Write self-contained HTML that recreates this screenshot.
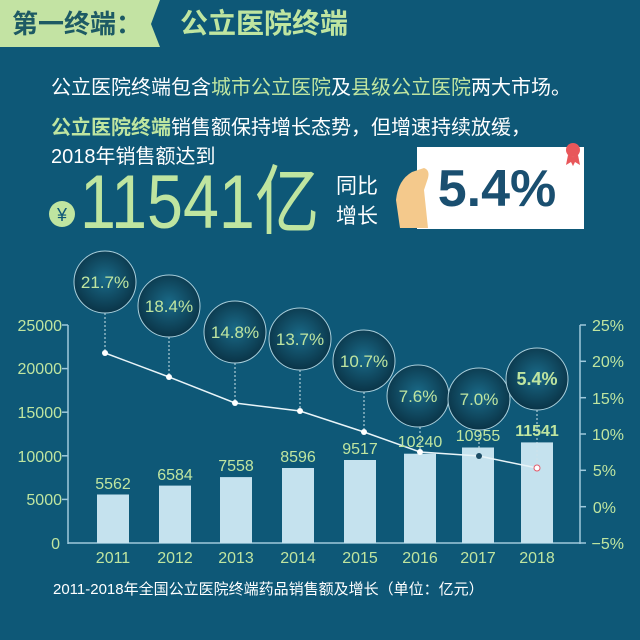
<!DOCTYPE html>
<html><head><meta charset="utf-8"><style>
*{margin:0;padding:0}
body{width:640px;height:640px;background:#0e5877;position:relative;overflow:hidden;font-family:"Liberation Sans","Noto Sans CJK SC",sans-serif;}
.a{position:absolute;white-space:nowrap}
.g{color:#bfe5a0}
</style></head><body>
<svg class="a" style="left:0;top:0" width="640" height="640">
<polygon points="0,0 160,0 151,24 160,47 0,47" fill="#c3e3a3"/>
<rect x="417" y="147" width="167" height="82" fill="#fff"/>
<path d="M400,228 L396,200 Q398,180 412,172 L424,168 Q430,170 428,178 L424,190 L428,228 Z" fill="#f4c98c"/>
<circle cx="573" cy="150" r="7" fill="#e8575a"/>
<polygon points="568,155 566,165 571,162 573,166 575,158" fill="#e8575a"/>
<polygon points="578,155 580,165 575,162 573,166 571,158" fill="#e8575a"/>
<circle cx="62" cy="214" r="13" fill="#bfe5a0"/>
<g stroke="#9fc9dc" stroke-width="1.5" fill="none">
<line x1="68" y1="325" x2="68" y2="544"/><line x1="68" y1="543" x2="580" y2="543"/>
<line x1="580" y1="325" x2="580" y2="544"/>
<line x1="62" y1="325" x2="68" y2="325"/><line x1="62" y1="368.6" x2="68" y2="368.6"/><line x1="62" y1="412.2" x2="68" y2="412.2"/><line x1="62" y1="455.8" x2="68" y2="455.8"/><line x1="62" y1="499.4" x2="68" y2="499.4"/>
<line x1="580" y1="325" x2="586" y2="325"/><line x1="580" y1="361.3" x2="586" y2="361.3"/><line x1="580" y1="397.7" x2="586" y2="397.7"/><line x1="580" y1="434" x2="586" y2="434"/><line x1="580" y1="470.3" x2="586" y2="470.3"/><line x1="580" y1="506.7" x2="586" y2="506.7"/><line x1="580" y1="543" x2="586" y2="543"/>
</g>
<g fill="#c5e2ee">
<rect x="97" y="494.5" width="32" height="48.5"/>
<rect x="159" y="485.6" width="32" height="57.4"/>
<rect x="220" y="477.1" width="32" height="65.9"/>
<rect x="282" y="468" width="32" height="75"/>
<rect x="344" y="460" width="32" height="83"/>
<rect x="404" y="453.7" width="32" height="89.3"/>
<rect x="462" y="447.5" width="32" height="95.5"/>
<rect x="521" y="442.4" width="32" height="100.6"/>
</g>
<g stroke="#cfe3ea" stroke-dasharray="2,2" stroke-width="1">
<line x1="105" y1="313" x2="105" y2="353"/><line x1="169" y1="337" x2="169" y2="377"/><line x1="235" y1="363" x2="235" y2="403"/><line x1="300" y1="370" x2="300" y2="411"/><line x1="364" y1="392" x2="364" y2="432"/><line x1="420" y1="427" x2="420" y2="452"/><line x1="479" y1="430" x2="479" y2="456"/><line x1="537" y1="410" x2="537" y2="468"/>
</g>
<polyline points="105,353 169,377 235,403 300,411 364,432 420,452 479,456 537,468" fill="none" stroke="#e8f4f8" stroke-width="1.5"/>
<g fill="#fff"><circle cx="105" cy="353" r="3"/><circle cx="169" cy="377" r="3"/><circle cx="235" cy="403" r="3"/><circle cx="300" cy="411" r="3"/><circle cx="364" cy="432" r="3"/><circle cx="420" cy="452" r="3"/><circle cx="479" cy="456" r="3" fill="#1d4d66"/><circle cx="537" cy="468" r="3" stroke="#e25a6a" fill="#fff"/></g>
<defs><radialGradient id="b" cx="50%" cy="45%" r="55%"><stop offset="0" stop-color="#1a6a88"/><stop offset="1" stop-color="#0a3447"/></radialGradient></defs>
<g fill="url(#b)" stroke="#a9cfdc" stroke-width="1">
<circle cx="105" cy="282" r="31"/><circle cx="169" cy="306" r="31"/><circle cx="235" cy="332" r="31"/><circle cx="300" cy="339" r="31"/><circle cx="364" cy="361" r="31"/><circle cx="418" cy="396" r="31"/><circle cx="479" cy="399" r="31"/><circle cx="537" cy="379" r="31"/>
</g>
<g font-family="Liberation Sans,sans-serif" font-size="17" fill="#bfe5a0" text-anchor="middle">
<text x="105" y="288">21.7%</text><text x="169" y="312">18.4%</text><text x="235" y="338">14.8%</text><text x="300" y="345">13.7%</text><text x="364" y="367">10.7%</text><text x="418" y="402">7.6%</text><text x="479" y="405">7.0%</text><text x="537" y="385" font-weight="bold" font-size="18">5.4%</text>
</g>
<g font-family="Liberation Sans,sans-serif" font-size="16" fill="#bfe5a0" text-anchor="middle">
<text x="113" y="489">5562</text><text x="175" y="480">6584</text><text x="236" y="471">7558</text><text x="298" y="462">8596</text><text x="360" y="454">9517</text><text x="420" y="447">10240</text><text x="478" y="441">10955</text><text x="537" y="436" font-weight="bold">11541</text>
<text x="113" y="563">2011</text><text x="175" y="563">2012</text><text x="236" y="563">2013</text><text x="298" y="563">2014</text><text x="360" y="563">2015</text><text x="420" y="563">2016</text><text x="478" y="563">2017</text><text x="537" y="563">2018</text>
</g>
<g font-family="Liberation Sans,sans-serif" font-size="16" fill="#bfe5a0" text-anchor="end">
<text x="62" y="331">25000</text><text x="62" y="374">20000</text><text x="62" y="418">15000</text><text x="62" y="462">10000</text><text x="62" y="505">5000</text><text x="60" y="549">0</text>
</g>
<g font-family="Liberation Sans,sans-serif" font-size="16" fill="#bfe5a0" text-anchor="end">
<text x="624" y="331">25%</text><text x="624" y="367">20%</text><text x="624" y="404">15%</text><text x="624" y="440">10%</text><text x="616" y="476">5%</text><text x="616" y="513">0%</text><text x="624" y="549">−5%</text>
</g>
<text x="62" y="221" font-size="18" fill="#0e5877" text-anchor="middle" font-family="Liberation Sans,sans-serif">¥</text>
<text x="497" y="206" font-size="52" font-weight="bold" fill="#1a4f70" text-anchor="middle" font-family="Liberation Sans,sans-serif">5.4%</text>
</svg>
<div class="a" style="left:12px;top:8px;font-size:26px;font-weight:bold;color:#1d5a64;line-height:32px">第一终端：</div>
<div class="a g" style="left:180px;top:7px;font-size:28px;font-weight:bold;line-height:34px">公立医院终端</div>
<div class="a" style="left:51px;top:76px;font-size:20px;color:#fff;line-height:24px">公立医院终端包含<span class="g">城市公立医院</span>及<span class="g">县级公立医院</span>两大市场。</div>
<div class="a" style="left:51px;top:116px;font-size:20px;color:#fff;line-height:24px"><b class="g">公立医院终端</b>销售额保持增长态势，但增速持续放缓，</div>
<div class="a" style="left:51px;top:145px;font-size:20px;color:#fff;line-height:24px">2018年销售额达到</div>
<div class="a g" style="left:80px;top:163px;font-size:76px;line-height:80px;transform:scaleX(0.85);transform-origin:left">11541亿</div>
<div class="a" style="left:336px;top:172px;font-size:21px;color:#fff;line-height:30px">同比<br>增长</div>
<div class="a" style="left:53px;top:580px;font-size:15px;color:#fff;line-height:20px">2011-2018年全国公立医院终端药品销售额及增长（单位：亿元）</div>
</body></html>
